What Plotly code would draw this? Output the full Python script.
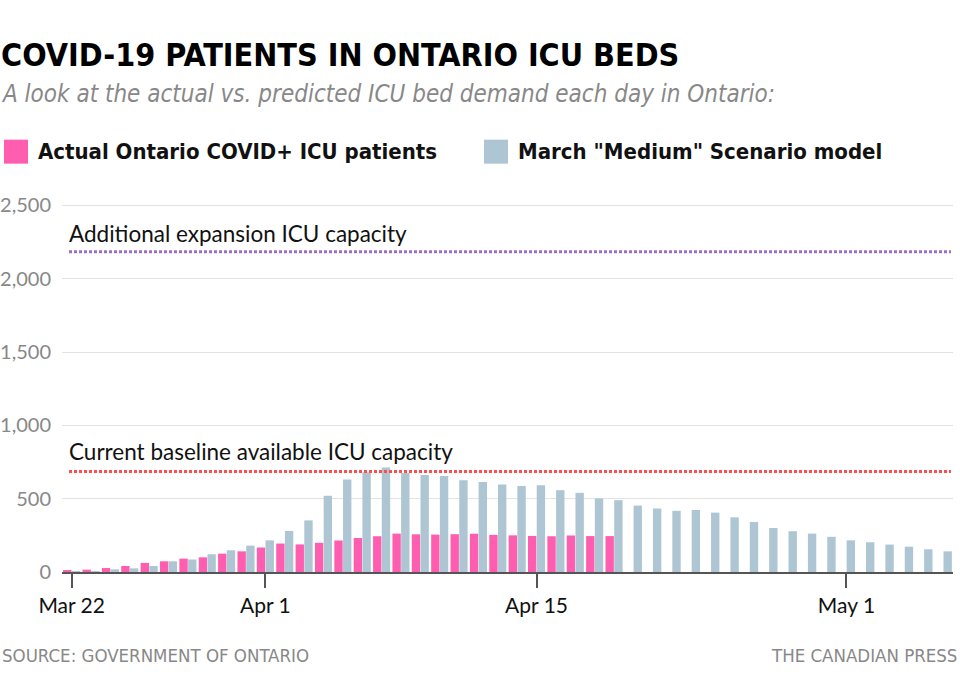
import plotly.graph_objects as go

# ---------------- data ----------------
dates = [
    "2020-03-22", "2020-03-23", "2020-03-24", "2020-03-25", "2020-03-26", "2020-03-27",
    "2020-03-28", "2020-03-29", "2020-03-30", "2020-03-31", "2020-04-01", "2020-04-02",
    "2020-04-03", "2020-04-04", "2020-04-05", "2020-04-06", "2020-04-07", "2020-04-08",
    "2020-04-09", "2020-04-10", "2020-04-11", "2020-04-12", "2020-04-13", "2020-04-14",
    "2020-04-15", "2020-04-16", "2020-04-17", "2020-04-18", "2020-04-19", "2020-04-20",
    "2020-04-21", "2020-04-22", "2020-04-23", "2020-04-24", "2020-04-25", "2020-04-26",
    "2020-04-27", "2020-04-28", "2020-04-29", "2020-04-30", "2020-05-01", "2020-05-02",
    "2020-05-03", "2020-05-04", "2020-05-05", "2020-05-06",
]
actual = [10, 16, 27, 41, 62, 73, 91, 100, 125, 141, 167, 194, 188, 199, 215, 232,
          244, 262, 257, 255, 258, 261, 253, 250, 246, 244, 249, 245, 245]
model = [3, 5, 18, 25, 41, 73, 85, 121, 148, 180, 216, 280, 352, 520, 631, 681,
         712, 676, 661, 655, 626, 614, 597, 586, 591, 558, 540, 502, 490, 453, 433,
         417, 423, 405, 373, 341, 300, 278, 262, 240, 216, 203, 187, 173, 155, 141]
baseline_capacity = 685
expansion_capacity = 2185
tick_dates = ["2020-03-22", "2020-04-01", "2020-04-15", "2020-05-01"]
tick_labels = ["Mar 22", "Apr 1", "Apr 15", "May 1"]
y_ticks = [0, 500, 1000, 1500, 2000, 2500]
y_tick_labels = ["0", "500", "1,000", "1,500", "2,000", "2,500"]

PINK = "#ff5db0"
BLUE = "#aec6d3"
RED = "#ff4d4d"
PURPLE = "#9d6fc4"

# plot-area geometry in pixels
W, H = 960, 683
L, R = 62, 953
B, T = 572, 204.3


def px(x):
    return (x - L) / (R - L)


def py(y):
    return (B - y) / (B - T)


fig = go.Figure()
fig.add_trace(go.Bar(x=dates[:len(actual)], y=actual, name="Actual Ontario COVID+ ICU patients",
                     marker=dict(color=PINK, line=dict(width=0)), showlegend=False))
fig.add_trace(go.Bar(x=dates, y=model, name='March "Medium" Scenario model',
                     marker=dict(color=BLUE, line=dict(width=0)), showlegend=False))

NARROW = "Liberation Sans Narrow, DejaVu Sans Condensed, Arial Narrow, Lato"
BODY = "Lato, Noto Sans, sans-serif"

shapes = [
    dict(type="line", xref="paper", yref="y", x0=px(69), x1=px(951),
         y0=baseline_capacity, y1=baseline_capacity,
         line=dict(color=RED, width=3, dash="3px,2px")),
    dict(type="line", xref="paper", yref="y", x0=px(69), x1=px(951),
         y0=expansion_capacity, y1=expansion_capacity,
         line=dict(color=PURPLE, width=3, dash="3px,2px")),
    # legend swatches
    dict(type="rect", xref="paper", yref="paper", x0=px(4), x1=px(28), y0=py(164), y1=py(140),
         fillcolor=PINK, line=dict(width=0)),
    dict(type="rect", xref="paper", yref="paper", x0=px(484), x1=px(508), y0=py(164), y1=py(140),
         fillcolor=BLUE, line=dict(width=0)),
]

annotations = [
    dict(text="<b>COVID-19 PATIENTS IN ONTARIO ICU BEDS</b>", x=px(-1), y=py(55),
         font=dict(family=NARROW, size=32, color="#000")),
    dict(text="<i>A look at the actual vs. predicted ICU bed demand each day in Ontario:</i>",
         x=px(-1), y=py(94), font=dict(family=NARROW, size=24, color="#888")),
    dict(text="<b>Actual Ontario COVID+ ICU patients</b>", x=px(36), y=py(152),
         font=dict(family=NARROW, size=22, color="#111")),
    dict(text='<b>March "Medium" Scenario model</b>', x=px(516), y=py(152),
         font=dict(family=NARROW, size=22, color="#111")),
    dict(text="Additional expansion ICU capacity", x=px(67), y=py(234),
         font=dict(family=BODY, size=22.5, color="#111")),
    dict(text="Current baseline available ICU capacity", x=px(67), y=py(452),
         font=dict(family=BODY, size=22.5, color="#111")),
    dict(text="SOURCE: GOVERNMENT OF ONTARIO", x=px(0), y=py(655),
         font=dict(family=NARROW, size=18.5, color="#888")),
    dict(text="THE CANADIAN PRESS", x=px(959), y=py(655), xanchor="right",
         font=dict(family=NARROW, size=18.5, color="#888")),
]
for a in annotations:
    a.setdefault("xanchor", "left")
    a.update(xref="paper", yref="paper", yanchor="middle", showarrow=False)

fig.update_layout(
    width=W, height=H,
    margin=dict(l=L, r=W - R, t=T, b=H - B, pad=0),
    paper_bgcolor="white", plot_bgcolor="white",
    barmode="group", bargap=0.1, bargroupgap=0.04,
    font=dict(family=BODY, size=20, color="#888"),
    shapes=shapes, annotations=annotations,
    showlegend=False,
    xaxis=dict(
        type="date", automargin=False,
        range=["2020-03-21 12:00", "2020-05-06 12:00"],
        tickvals=tick_dates, ticktext=tick_labels,
        ticks="outside", ticklen=14, tickwidth=2, tickcolor="#555",
        showline=True, linecolor="#555", linewidth=2,
        showgrid=False, zeroline=False,
        tickfont=dict(family=BODY, size=21, color="#111"),
    ),
    yaxis=dict(
        automargin=False,
        range=[0, 2510],
        tickvals=y_ticks, ticktext=y_tick_labels,
        showgrid=True, gridcolor="#e3e3e3", gridwidth=1,
        zeroline=False, showline=False, ticks="",
        ticklabelstandoff=10,
        tickfont=dict(family=BODY, size=20, color="#888"),
    ),
)

fig.write_html("out.html", config={"displayModeBar": False},
               post_script="document.body.style.margin='0';")
